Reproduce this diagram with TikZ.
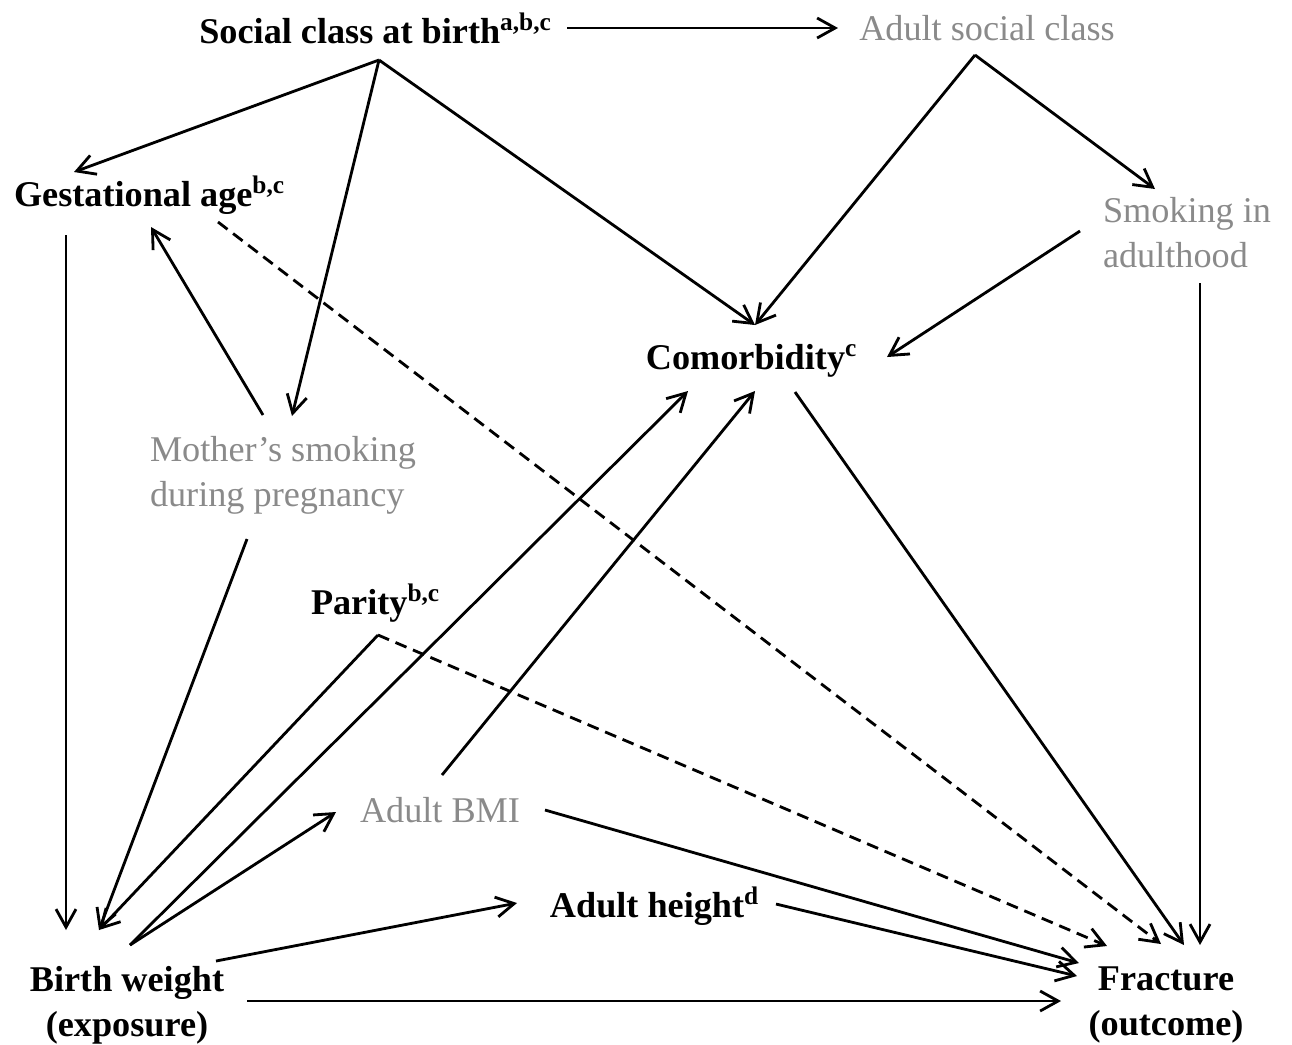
\documentclass[tikz,border=0pt]{standalone}
\usepackage{fontspec}
\setmainfont{Liberation Serif}
\usetikzlibrary{arrows.meta, calc}

\definecolor{lightlbl}{RGB}{138,138,138}

\begin{document}
\begin{tikzpicture}[x=0.01cm, y=-0.01cm]
    \tikzstyle{factor} = [inner sep=0pt, font=\fontsize{10.3}{12.8}\selectfont\bfseries, align=center]
    \tikzstyle{unmeasured} = [inner sep=0pt, font=\fontsize{10.3}{12.8}\selectfont, text=lightlbl, align=left]
    \tikzstyle{arrow} = [line width=0.8pt, -{Straight Barb[length=1.8mm,width=2mm]}]
    \tikzstyle{dasharrow} = [arrow, dash pattern=on 3.4pt off 2pt]

    \useasboundingbox (0,0) rectangle (1292,1044);

    \node[factor] (social) at (376,28) {Social class at birth\textsuperscript{a,b,c}};
    \node[unmeasured] (adultsc) at (987,28) {Adult social class};
    \node[factor] (gest) at (150,195) {Gestational age\textsuperscript{b,c}};
    \node[unmeasured] (smokead) at (1187,233) {Smoking in\\adulthood};
    \node[factor] (comorb) at (752,361) {Comorbidity\textsuperscript{c}};
    \node[unmeasured] (mother) at (283,475) {Mother’s smoking\\during pregnancy};
    \node[factor] (parity) at (376,603) {Parity\textsuperscript{b,c}};
    \node[unmeasured] (bmi) at (440,810) {Adult BMI};
    \node[factor] (height) at (655,906) {Adult height\textsuperscript{d}};
    \node[factor] (bw) at (127,1005) {Birth weight\\(exposure)};
    \node[factor] (fract) at (1166,1005) {Fracture\\(outcome)};

    \draw[arrow] ($(social)+(191,0)$) -- ($(adultsc)+(-149,0)$);
    \draw[arrow] ($(social)+(3,32)$) -- ($(gest)+(-76,-23)$);
    \draw[arrow] ($(social)+(3,32)$) -- ($(mother)+(9,-59)$);
    \draw[arrow] ($(social)+(3,32)$) -- ($(comorb)+(3,-36)$);
    \draw[arrow] ($(adultsc)+(-12,27)$) -- ($(comorb)+(3,-36)$);
    \draw[arrow] ($(adultsc)+(-12,27)$) -- ($(smokead)+(-32,-44)$);
    \draw[arrow] ($(smokead)+(-107,-2)$) -- ($(comorb)+(135,-4)$);
    \draw[arrow] ($(smokead)+(13,50)$) -- ($(fract)+(34,-60)$);
    \draw[arrow] ($(gest)+(-84,40)$) -- ($(bw)+(-61,-75)$);
    \draw[dasharrow] ($(gest)+(68,27)$) -- ($(fract)+(-5,-61)$);
    \draw[arrow] ($(mother)+(-20,-60)$) -- ($(gest)+(1,32)$);
    \draw[arrow] ($(mother)+(-36,64)$) -- ($(bw)+(-28,-75)$);
    \draw[arrow] ($(comorb)+(43,31)$) -- ($(fract)+(18,-60)$);
    \draw[arrow] ($(parity)+(2,32)$) -- ($(bw)+(-28,-75)$);
    \draw[dasharrow] ($(parity)+(2,32)$) -- ($(fract)+(-59,-59)$);
    \draw[arrow] ($(bw)+(3,-60)$) -- ($(comorb)+(-64,30)$);
    \draw[arrow] ($(bw)+(3,-60)$) -- ($(bmi)+(-104,2)$);
    \draw[arrow] ($(bmi)+(2,-35)$) -- ($(comorb)+(3,30)$);
    \draw[arrow] ($(bmi)+(105,0)$) -- ($(fract)+(-87,-42)$);
    \draw[arrow] ($(height)+(121,-2)$) -- ($(fract)+(-89,-29)$);
    \draw[arrow] ($(bw)+(89,-44)$) -- ($(height)+(-138,-3)$);
    \draw[arrow] ($(bw)+(120,-4)$) -- ($(fract)+(-105,-4)$);
\end{tikzpicture}
\end{document}
